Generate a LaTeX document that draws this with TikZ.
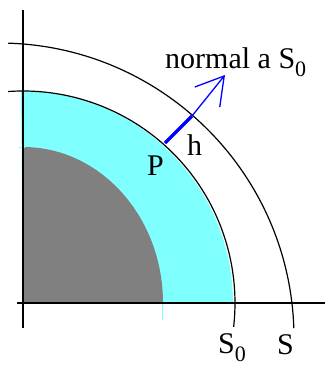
\documentclass[tikz,border=0pt]{standalone}
\usepackage{fontspec}
\setmainfont{Liberation Serif}
\usetikzlibrary{calc, positioning}
\usetikzlibrary{arrows.meta}
\definecolor{lightcyan}{HTML}{80FFFF}
\definecolor{midgray}{HTML}{808080}
\newcommand{\subzero}{\raisebox{-8pt}{\fontsize{22}{22}\selectfont 0}}
\tikzset{
  axis/.style={line width=1.5pt},
  surf/.style={line width=1.2pt},
  lbl/.style={font=\fontsize{30}{34}\selectfont, inner sep=0pt, anchor=base west}
}
\begin{document}
\begin{tikzpicture}[x=1pt, y=1pt]
\useasboundingbox (-23,-65) rectangle (302,303);
\def\rzero{212}
\def\rout{295}
\coordinate (O) at (0,0);
\coordinate (C) at (-24,-35);
\coordinate (P) at (142,160);
\coordinate (Q) at (169,187);
\coordinate (T) at (202,228);
\fill[lightcyan] (O) -- (210,0) arc (0:90:\rzero) -- cycle;
\fill[midgray] (O) -- (140,0) arc[start angle=0, end angle=90, x radius=140, y radius=156] -- cycle;
\draw[lightcyan, line width=1pt] (140,0) -- (140,-17);
\draw[lightcyan, line width=1pt] (-4,156) -- (2,156);
\draw[axis] (0,293) -- (0,-25);
\draw[axis] (-6,0) -- (302,0);
% surfaces S0 and S
\draw[surf] (94:\rzero) arc (94:-6.5:\rzero);
\draw[surf] ($(C)+(88.2:\rout)$) arc (88.2:1.9:\rout);
\draw[blue, line width=3.5pt] (P) -- (Q);
\draw[blue, line width=1.3pt, -{Straight Barb[length=27pt, width=32pt]}] (Q) -- (T);
\node[lbl] (Plabel) at (124,128) {P};
\node[lbl] (hlabel) at (164,148) {h};
\node[lbl] (normal) at (142,235) {normal a S\subzero};
\node[lbl] (S0label) at (195,-50) {S\subzero};
\node[lbl] (Slabel) at (254,-51) {S};
\end{tikzpicture}
\end{document}
